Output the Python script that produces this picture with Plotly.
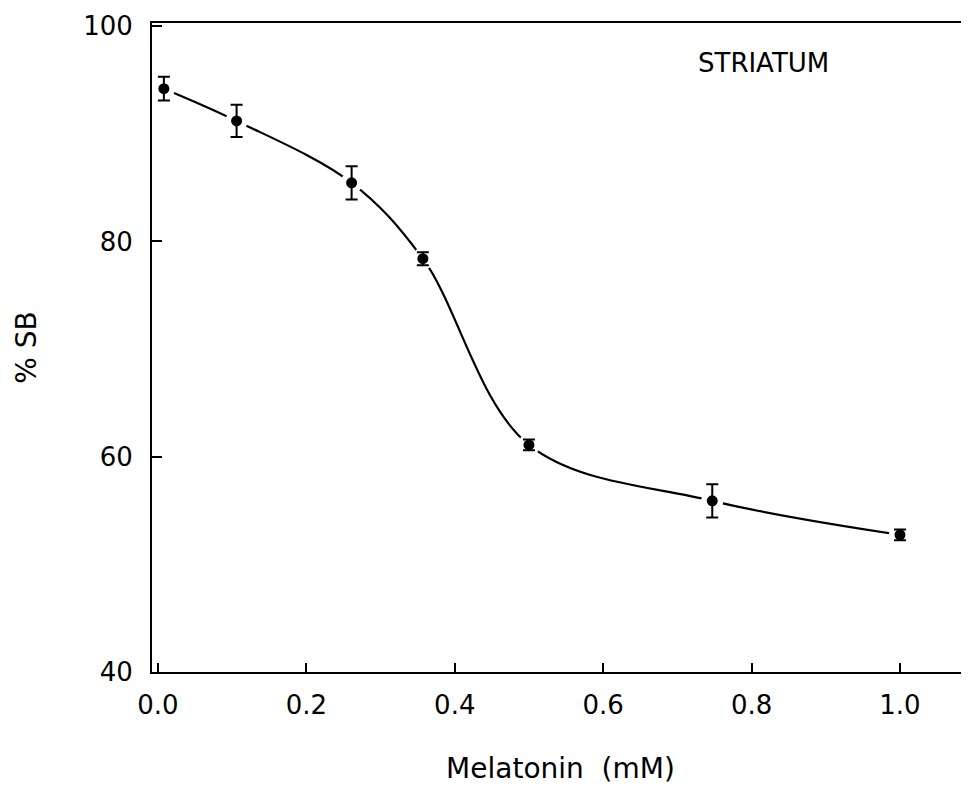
import plotly.graph_objects as go

# Data
melatonin_mM = [0.008, 0.106, 0.261, 0.357, 0.5, 0.747, 1.0]
pct_sb = [94.2, 91.2, 85.45, 78.4, 61.1, 55.9, 52.75]
pct_sb_err = [1.1, 1.5, 1.55, 0.6, 0.5, 1.55, 0.5]

x_ticks = [0.0, 0.2, 0.4, 0.6, 0.8, 1.0]
x_ticklabels = ["0.0", "0.2", "0.4", "0.6", "0.8", "1.0"]
y_ticks = [40, 60, 80, 100]
y_ticklabels = ["40", "60", "80", "100"]

FONT = "DejaVu Sans"

fig = go.Figure()

# smooth fitted curve (drawn through the points with a spline)
fig.add_trace(go.Scatter(
    x=melatonin_mM, y=pct_sb, mode="lines",
    line=dict(color="black", width=2.2, shape="spline", smoothing=1.0),
    hoverinfo="skip", showlegend=False,
))
# white halos that open small gaps in the curve around each point
fig.add_trace(go.Scatter(
    x=melatonin_mM, y=pct_sb, mode="markers",
    marker=dict(color="white", size=22, line=dict(width=0)),
    hoverinfo="skip", showlegend=False,
))
# points with error bars
fig.add_trace(go.Scatter(
    x=melatonin_mM, y=pct_sb, mode="markers",
    marker=dict(color="black", size=11, line=dict(width=0)),
    error_y=dict(type="data", array=pct_sb_err, visible=True,
                 color="black", thickness=2, width=6),
    showlegend=False,
))

fig.add_annotation(
    text="STRIATUM", xref="paper", yref="paper", x=0.748, y=0.938,
    showarrow=False, font=dict(family=FONT, size=26, color="black"),
    xanchor="center", yanchor="middle",
)

fig.update_layout(
    width=961, height=777,
    margin=dict(l=144, r=0, t=15, b=113),
    paper_bgcolor="white", plot_bgcolor="white",
    font=dict(family=FONT, color="black"),
)
fig.update_xaxes(
    range=[-0.008, 1.093], tickvals=x_ticks, ticktext=x_ticklabels,
    ticks="inside", ticklen=9, tickwidth=2, tickcolor="black",
    showline=True, linecolor="black", linewidth=2, mirror=True,
    showgrid=False, zeroline=False,
    tickfont=dict(family=FONT, size=26, color="black"),
    ticklabelstandoff=9,
    title=dict(text="Melatonin  (mM)", font=dict(family=FONT, size=28, color="black"), standoff=42),
    automargin=False,
)
fig.update_yaxes(
    range=[40, 100.3], tickvals=y_ticks, ticktext=y_ticklabels,
    ticks="inside", ticklen=10, tickwidth=2, tickcolor="black",
    showline=True, linecolor="black", linewidth=2, mirror=False,
    showgrid=False, zeroline=False,
    tickfont=dict(family=FONT, size=26, color="black"),
    ticklabelstandoff=12,
    title=dict(text="% SB", font=dict(family=FONT, size=28, color="black"), standoff=38),
    automargin=False,
)

fig.write_html("out.html")
